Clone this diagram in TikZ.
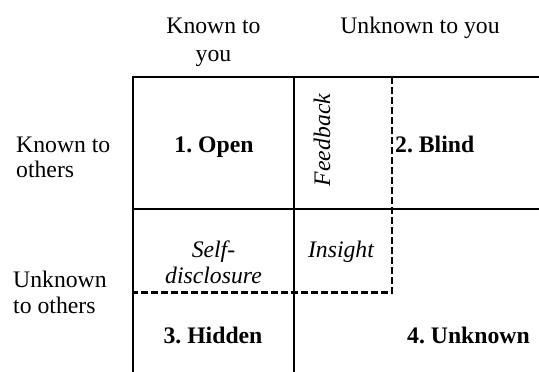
\documentclass[tikz,border=0pt]{standalone}
\usepackage{fontspec}
\setmainfont{Liberation Serif}
\begin{document}
\frenchspacing
\begin{tikzpicture}[x=1pt,y=-1pt,
  lbl/.style={inner sep=0pt,font=\fontsize{23.7}{27}\selectfont},
  grid/.style={line width=2.5pt},
  dsh/.style={line width=2.8pt,dash pattern=on 6.5pt off 3.5pt},
]
\useasboundingbox (0,0) rectangle (539,372);
% grid coordinates
\coordinate (tl) at (133,77);
\coordinate (tr) at (539,77);
\coordinate (ml) at (133,209);
\coordinate (mr) at (539,209);
\coordinate (bl) at (133,372);
\coordinate (mt) at (294,77);
\coordinate (mb) at (294,372);
\coordinate (dt) at (392,77);
\coordinate (dc) at (392,292.5);
\coordinate (dl) at (133,292.5);
% solid lines
\draw[grid] (tl) -- (tr);
\draw[grid] (ml) -- (mr);
\draw[grid] (133,75.75) -- (bl);
\draw[grid] (294,75.75) -- (mb);
% dashed lines
\draw[dsh] (dt) -- (dc) -- (dl);
% headers
\node[lbl,anchor=base,align=center] (kyou) at (213.5,61) {Known to\\[1pt]you};
\node[lbl,anchor=base] (uyou) at (420,33) {Unknown to you};
\node[lbl,anchor=base west,align=left] (koth) at (16,177) {Known to\\[-2pt]others};
\node[lbl,anchor=base west,align=left] (uoth) at (13,313) {Unknown\\[-1pt]to others};
% cells
\node[lbl,anchor=base,font=\fontsize{23.7}{27}\selectfont\bfseries] (open) at (214,152) {1. Open};
\node[lbl,anchor=base west,font=\fontsize{23.7}{27}\selectfont\bfseries] (blind) at (395,152) {2. Blind};
\node[lbl,anchor=base,rotate=90,font=\fontsize{23.7}{27}\selectfont\itshape] (fb) at (330,140) {Feedback};
\node[lbl,anchor=base,align=center,font=\fontsize{23.7}{26}\selectfont\itshape] (sd) at (213.5,283) {Self-\\disclosure};
\node[lbl,anchor=base,font=\fontsize{23.7}{27}\selectfont\itshape] (ins) at (341,257) {Insight};
\node[lbl,anchor=base,font=\fontsize{23.7}{27}\selectfont\bfseries] (hid) at (213,343) {3. Hidden};
\node[lbl,anchor=base west,font=\fontsize{23.7}{27}\selectfont\bfseries] (unk) at (407,343) {4. Unknown};
\end{tikzpicture}
\end{document}
